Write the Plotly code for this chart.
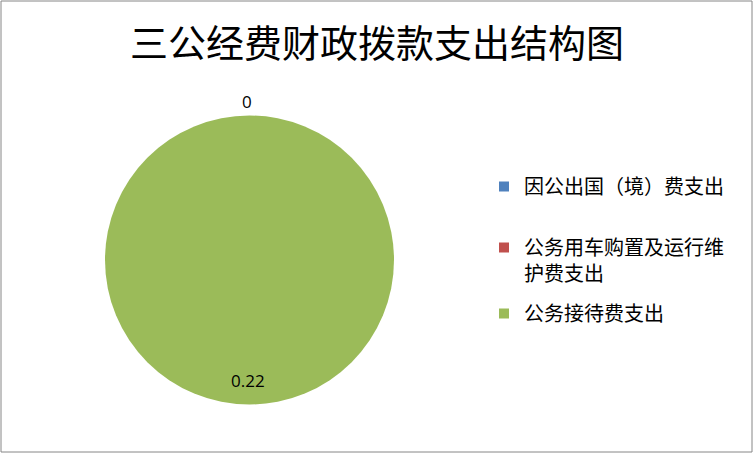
import plotly.graph_objects as go

# chart data
categories = ['因公出国（境）费支出', '公务用车购置及运行维护费支出', '公务接待费支出']
legend_text = ['因公出国（境）费支出', '公务用车购置及运行维<br>护费支出', '公务接待费支出']
values = [0, 0, 0.22]
colors = ['#4F81BD', '#C0504D', '#9BBB59']

W, H = 754, 454
cjk = 'Noto Sans CJK SC'

fig = go.Figure()

fig.add_trace(go.Pie(
    labels=categories, values=values,
    marker=dict(colors=colors, line=dict(width=0)),
    sort=False, direction='clockwise', rotation=0,
    textinfo='none', hoverinfo='label+value',
    showlegend=False,
    domain=dict(x=[105 / W, 394 / W], y=[1 - 405 / H, 1 - 115 / H]),
))

# legend entries, one legend each so the spacing can follow the original
legend_tops = [167, 228, 294]
legend_names = ['legend', 'legend2', 'legend3']
for i, name in enumerate(legend_text):
    fig.add_trace(go.Scatter(
        x=[None], y=[None], mode='markers', name=name,
        marker=dict(symbol='square', size=10, color=colors[i]),
        legend=legend_names[i],
    ))
    fig.update_layout({legend_names[i]: dict(
        x=484 / W, y=1 - legend_tops[i] / H, xanchor='left', yanchor='top',
        valign='top', bgcolor='rgba(0,0,0,0)', itemwidth=30,
        font=dict(family=cjk, size=20, color='#000000'),
    )})

# data labels
fig.add_annotation(x=247 / W, y=1 - 101 / H, xref='paper', yref='paper',
                   xanchor='center', yanchor='middle',
                   text=f'{values[0]:g}', showarrow=False,
                   font=dict(family='Open Sans', size=17, color='#000000'))
fig.add_annotation(x=248 / W, y=1 - 380 / H, xref='paper', yref='paper',
                   xanchor='center', yanchor='middle',
                   text=f'{values[2]:g}', showarrow=False,
                   font=dict(family='Open Sans', size=17, color='#000000'))

# outer frame
fig.add_shape(type='rect', xref='paper', yref='paper',
              x0=1 / W, x1=1 - 2 / W, y0=2 / H, y1=1 - 1 / H,
              line=dict(color='#868686', width=1))

fig.update_layout(
    width=W, height=H,
    margin=dict(l=0, r=0, t=0, b=0),
    paper_bgcolor='white', plot_bgcolor='white',
    title=dict(text='三公经费财政拨款支出结构图', x=0.5, xanchor='center',
               y=1 - 44 / H, yanchor='middle',
               font=dict(family=cjk, size=38, color='#000000')),
    xaxis=dict(visible=False), yaxis=dict(visible=False),
)

# drop the default page margin so the figure sits at the window corner
fig.write_html('out.html', config={'displayModeBar': False},
               post_script="document.body.style.margin='0';")
